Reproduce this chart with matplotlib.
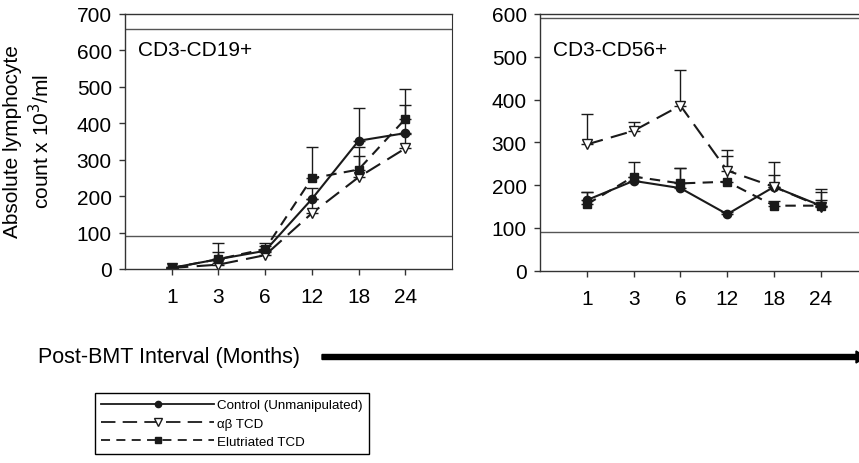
import matplotlib
matplotlib.use("Agg")
import matplotlib.pyplot as plt
from matplotlib.lines import Line2D
import numpy as np

plt.rcParams['font.family'] = ['Liberation Sans', 'DejaVu Sans']

months = ['1', '3', '6', '12', '18', '24']

# CD3-CD19+ panel
b_control = [3, 27, 50, 192, 352, 373]
b_control_err = [2, 20, 12, 30, 91, 78]
b_ab = [3, 12, 38, 153, 252, 331]
b_ab_err = [1, 5, 10, 40, 82, 40]
b_elut = [3, 27, 55, 249, 273, 412]
b_elut_err = [2, 44, 16, 85, 37, 82]

# CD3-CD56+ panel
n_control = [165, 210, 193, 132, 196, 152]
n_control_err = [20, 8, 47, 5, 28, 33]
n_ab = [295, 327, 386, 234, 196, 150]
n_ab_err = [71, 20, 84, 49, 59, 15]
n_elut = [155, 220, 204, 208, 152, 152]
n_elut_err = [30, 35, 36, 59, 10, 40]

ref_lines_b = [660, 90]
ref_lines_n = [590, 90]

labels = ['Control (Unmanipulated)', 'αβ TCD', 'Elutriated TCD']

W, H = 859, 464
fig = plt.figure(figsize=(W / 100, H / 100), dpi=100)

dark = '#1a1a1a'
styles = [
    dict(ls='-', marker='o', ms=6, mfc=dark, mec=dark),
    dict(ls=(0, (8, 4)), marker='v', ms=7, mfc='white', mec=dark),
    dict(ls=(0, (5, 3.5)), marker='s', ms=6, mfc=dark, mec=dark),
]


def ax_rect(x0, x1, ytop, ybot):
    return [x0 / W, 1 - ybot / H, (x1 - x0) / W, (ybot - ytop) / H]


def panel(rect, series, errs, ymax, yticks, refs, title, right_spine):
    ax = fig.add_axes(rect)
    x = np.arange(1, len(months) + 1)
    for vals, err, st in zip(series, errs, styles):
        ax.errorbar(x, vals, yerr=[np.zeros(len(err)), err], color=dark, lw=1.5,
                    elinewidth=1.0, capsize=4, capthick=1.0, **st)
    for r in refs:
        ax.axhline(r, color='#555555', lw=1.0, zorder=0)
    ax.set_xlim(0, 7)
    ax.set_ylim(0, ymax)
    ax.set_xticks(x)
    ax.set_xticklabels(months, fontsize=15)
    ax.set_yticks(yticks)
    ax.set_yticklabels([str(t) for t in yticks], fontsize=15)
    ax.tick_params(axis='both', direction='out', length=4, width=1, color='#333333', pad=5.5)
    ax.tick_params(axis='x', pad=9)
    for s in ['left', 'bottom', 'top']:
        ax.spines[s].set_color('#333333')
        ax.spines[s].set_linewidth(1.0)
    ax.spines['right'].set_visible(right_spine)
    ax.spines['right'].set_color('#333333')
    ax.text(0.04, 0.86, title, transform=ax.transAxes, fontsize=15, va='center', ha='left')
    return ax


panel(ax_rect(125, 452, 15, 270), [b_control, b_ab, b_elut],
      [b_control_err, b_ab_err, b_elut_err], 700, list(range(0, 701, 100)),
      ref_lines_b, 'CD3-CD19+', True)
panel(ax_rect(540, 540 + 7 * 46.8, 15, 271.7), [n_control, n_ab, n_elut],
      [n_control_err, n_ab_err, n_elut_err], 600, list(range(0, 601, 100)),
      ref_lines_n, 'CD3-CD56+', False)

fig.text(28 / W, 1 - 142 / H, 'Absolute lymphocyte\ncount x 10$^3$/ml', rotation=90,
         ha='center', va='center', fontsize=15, multialignment='center', linespacing=1.3)

fig.text(38 / W, 1 - 358 / H, 'Post-BMT Interval (Months)', ha='left', va='center',
         fontsize=15.5)
fig.patches.append(matplotlib.patches.FancyArrow(322 / W, 1 - 358 / H, (866 - 322) / W, 0,
                                                 width=5 / H, head_width=12 / H, head_length=10 / W,
                                                 length_includes_head=True, color='black',
                                                 transform=fig.transFigure, figure=fig))

leg_styles = [dict(st, ms=st['ms'] - 1.5) for st in styles]
handles = [Line2D([], [], color=dark, lw=1.3, **st) for st in leg_styles]
leg = fig.legend(handles, labels, loc='upper left', bbox_to_anchor=(95 / W, 1 - 394 / H),
                 bbox_transform=fig.transFigure, prop={'size': 9.6},
                 handlelength=8.5, handletextpad=0.2, borderpad=0.45, labelspacing=0.45,
                 fancybox=False, framealpha=1, edgecolor='black', borderaxespad=0)
leg.get_frame().set_linewidth(1.0)

fig.savefig('out.png', dpi=100)
